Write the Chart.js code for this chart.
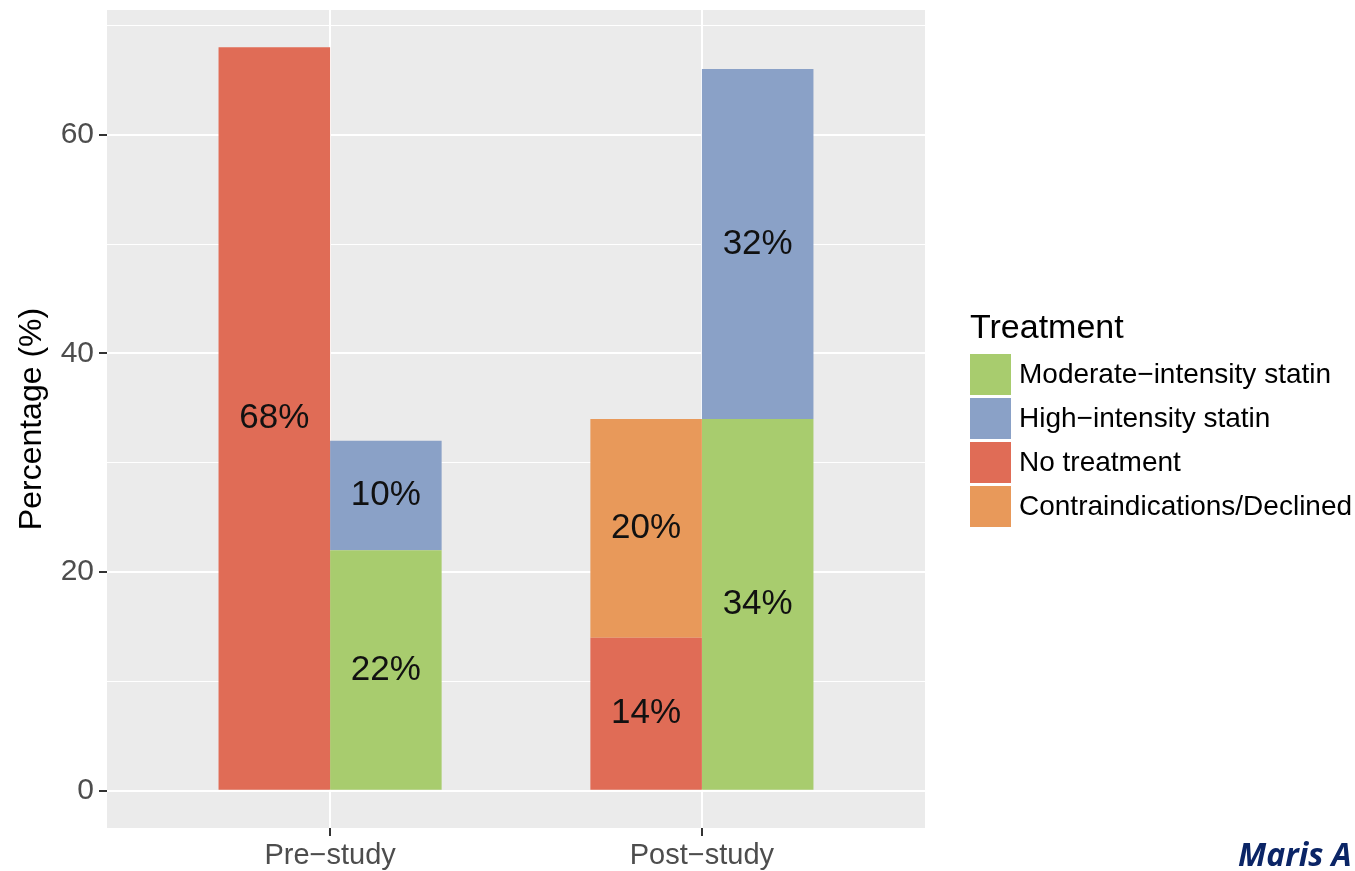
<!DOCTYPE html>
<html>
<head>
<meta charset="utf-8">
<script src="https://cdn.jsdelivr.net/npm/chart.js@4.4.1/dist/chart.umd.min.js"></script>
<style>
  html, body { margin: 0; padding: 0; background: #ffffff; }
  #wrap { position: relative; width: 1355px; height: 871px; overflow: hidden; }
  #chart { position: absolute; left: 0; top: 0; }
  #legend { position: absolute; left: 970px; top: 306px; font-family: "Liberation Sans", Arial, sans-serif; color: #000; }
  #legend .title { font-size: 34px; line-height: 40px; height: 46px; }
  #legend .item { display: flex; align-items: center; height: 44px; }
  #legend .key { width: 41px; height: 41px; margin-right: 8px; box-sizing: border-box; }
  #legend .lab { font-size: 28px; line-height: 32px; white-space: nowrap; }
  #credit { position: absolute; left: 1238px; top: 832px; font-family: "Open Sans", sans-serif; font-weight: 700; font-style: italic; font-size: 32px; color: #0b2566; white-space: nowrap; }
</style>
</head>
<body>
<div id="wrap">
  <canvas id="chart" width="1355" height="871"></canvas>
  <div id="legend"></div>
  <div id="credit">Maris A</div>
</div>
<script>
// Study phases along the x axis
const categories = ['Pre\u2212study', 'Post\u2212study'];

// Percentage of patients per treatment group
const noTreatment = [68, 14];
const contraindications = [0, 20];
const moderateStatin = [22, 34];
const highStatin = [10, 32];

// Y axis tick labels
const yTickLabels = [0, 20, 40, 60];

// Legend order and group names
const legendTitle = 'Treatment';
const legendOrder = ['Moderate\u2212intensity statin', 'High\u2212intensity statin', 'No treatment', 'Contraindications/Declined'];

const colors = {
  'No treatment': '#e06c56',
  'Contraindications/Declined': '#e8995a',
  'Moderate\u2212intensity statin': '#a8cc6e',
  'High\u2212intensity statin': '#8aa1c7'
};

function points(values) {
  return values.map((v, i) => ({ x: i + 1, y: v }));
}

const datasets = [
  { label: 'No treatment', data: points(noTreatment), stack: 'left' },
  { label: 'Contraindications/Declined', data: points(contraindications), stack: 'left' },
  { label: 'Moderate\u2212intensity statin', data: points(moderateStatin), stack: 'right' },
  { label: 'High\u2212intensity statin', data: points(highStatin), stack: 'right' }
].map(d => Object.assign(d, {
  backgroundColor: colors[d.label],
  borderWidth: 0,
  categoryPercentage: 0.6,
  barPercentage: 1.0
}));

const FONT = '"Liberation Sans", Arial, sans-serif';

// Grey panel behind the plotting area
const panelPlugin = {
  id: 'panel',
  beforeDraw(chart) {
    const a = chart.chartArea;
    const ctx = chart.ctx;
    ctx.save();
    ctx.fillStyle = '#ebebeb';
    ctx.fillRect(a.left, a.top, a.right - a.left, a.bottom - a.top);
    ctx.restore();
  }
};

// Percent labels centred in each bar segment
const valueLabels = {
  id: 'valueLabels',
  afterDatasetsDraw(chart) {
    const ctx = chart.ctx;
    ctx.save();
    ctx.font = '35px ' + FONT;
    ctx.fillStyle = '#111111';
    ctx.textAlign = 'center';
    ctx.textBaseline = 'middle';
    chart.data.datasets.forEach((ds, di) => {
      const meta = chart.getDatasetMeta(di);
      meta.data.forEach((el, i) => {
        const v = ds.data[i].y;
        if (!v) return;
        ctx.fillText(v + '%', el.x, (el.y + el.base) / 2);
      });
    });
    ctx.restore();
  }
};

const chart = new Chart(document.getElementById('chart'), {
  type: 'bar',
  data: { datasets },
  options: {
    responsive: false,
    animation: false,
    layout: { padding: { left: 13, right: 430, top: 10, bottom: 0 } },
    plugins: {
      legend: { display: false },
      tooltip: { enabled: false }
    },
    scales: {
      x: {
        type: 'linear',
        min: 0.4,
        max: 2.6,
        offset: false,
        border: { display: false },
        grid: {
          offset: false,
          color: '#ffffff',
          lineWidth: 2,
          tickColor: '#333333',
          tickWidth: 2,
          tickLength: 8
        },
        ticks: {
          stepSize: 1,
          includeBounds: false,
          padding: 3,
          color: '#4d4d4d',
          font: { family: FONT, size: 29 },
          maxRotation: 0,
          callback: v => categories[v - 1] || ''
        },
        afterFit: s => { s.height = 43; s.paddingLeft = 0; s.paddingRight = 0; }
      },
      y: {
        type: 'linear',
        min: -3.4,
        max: 71.4,
        border: { display: false },
        grid: {
          color: '#ffffff',
          lineWidth: c => (c.tick && yTickLabels.includes(c.tick.value)) ? 2 : 1,
          tickColor: c => (c.tick && yTickLabels.includes(c.tick.value)) ? '#333333' : 'rgba(0,0,0,0)',
          tickWidth: 2,
          tickLength: 8
        },
        ticks: {
          stepSize: 10,
          includeBounds: false,
          padding: 5,
          color: '#4d4d4d',
          font: { family: FONT, size: 30 },
          callback: v => yTickLabels.includes(v) ? String(v) : ''
        },
        title: {
          display: true,
          text: 'Percentage (%)',
          color: '#000000',
          font: { family: FONT, size: 32 },
          padding: { top: 0, bottom: 0 }
        },
        afterFit: s => { s.width = 94; s.paddingTop = 0; s.paddingBottom = 0; }
      }
    }
  },
  plugins: [panelPlugin, valueLabels]
});

// Legend built from the dataset colours
const legend = document.getElementById('legend');
const t = document.createElement('div');
t.className = 'title';
t.textContent = legendTitle;
legend.appendChild(t);
legendOrder.forEach(name => {
  const item = document.createElement('div');
  item.className = 'item';
  const key = document.createElement('div');
  key.className = 'key';
  key.style.background = colors[name];
  const lab = document.createElement('div');
  lab.className = 'lab';
  lab.textContent = name;
  item.appendChild(key);
  item.appendChild(lab);
  legend.appendChild(item);
});
</script>
</body>
</html>
